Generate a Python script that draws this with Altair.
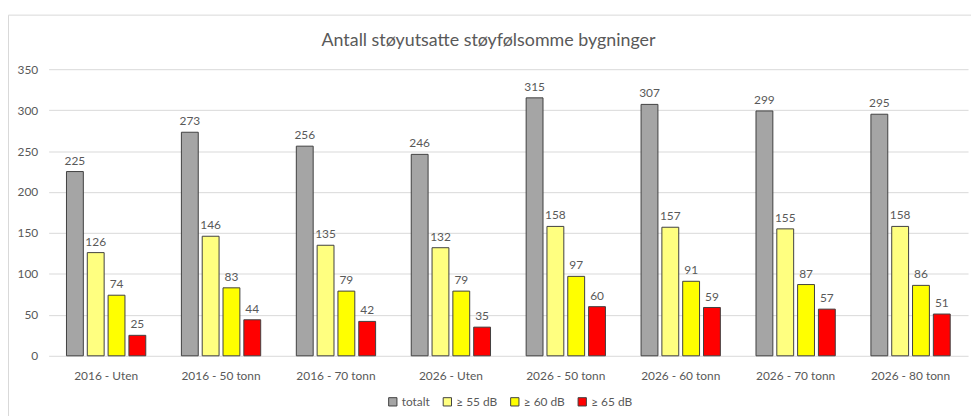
import altair as alt
import pandas as pd

categories = ["2016 - Uten", "2016 - 50 tonn", "2016 - 70 tonn", "2026 - Uten",
              "2026 - 50 tonn", "2026 - 60 tonn", "2026 - 70 tonn", "2026 - 80 tonn"]
series = ["totalt", "≥ 55 dB", "≥ 60 dB", "≥ 65 dB"]
totalt = [225, 273, 256, 246, 315, 307, 299, 295]
db55 = [126, 146, 135, 132, 158, 157, 155, 158]
db60 = [74, 83, 79, 79, 97, 91, 87, 86]
db65 = [25, 44, 42, 35, 60, 59, 57, 51]
colors = ["#A5A5A5", "#FFFF80", "#FFFF00", "#FF0000"]
y_ticks = [0, 50, 100, 150, 200, 250, 300, 350]

rows = []
for i, c in enumerate(categories):
    for s, vals in zip(series, [totalt, db55, db60, db65]):
        rows.append({"kategori": c, "serie": s, "verdi": vals[i]})
df = pd.DataFrame(rows)

W, H = 927, 289
FONT = "Lato"
TXT = "#595959"

x = alt.X("kategori:N", sort=categories,
          scale=alt.Scale(paddingInner=0.31, paddingOuter=0.155),
          axis=alt.Axis(title=None, labelAngle=0, domain=False, ticks=False,
                        labelPadding=15, labelFont=FONT, labelFontSize=12,
                        labelColor=TXT))
xo = alt.XOffset("serie:N", sort=series,
                 scale=alt.Scale(paddingInner=0.19, paddingOuter=0))
y = alt.Y("verdi:Q", scale=alt.Scale(domain=[0, 350], nice=False),
          axis=alt.Axis(values=y_ticks, title=None, domain=False, ticks=False,
                        labelPadding=11, labelFont=FONT, labelFontSize=12,
                        labelColor=TXT, gridColor="#d9d9d9", gridWidth=1))
color = alt.Color("serie:N", sort=series,
                  scale=alt.Scale(domain=series, range=colors),
                  legend=alt.Legend(title=None, orient="none", direction="horizontal",
                                    legendX=341, legendY=329, padding=0,
                                    symbolType="square", symbolSize=70,
                                    symbolStrokeColor="#404040", symbolStrokeWidth=1,
                                    labelFont=FONT, labelFontSize=12, labelColor=TXT,
                                    labelOffset=3, columnPadding=10))

bars = alt.Chart(df).mark_bar(stroke="#404040", strokeWidth=1).encode(
    x=x, xOffset=xo, y=y, color=color)

labels = alt.Chart(df).mark_text(dy=-11, font=FONT, fontSize=12, color=TXT).encode(
    x=x, xOffset=xo, y=y, text="verdi:Q")

frame = alt.Chart(pd.DataFrame({"f": [0]})).mark_rect(
    fill="transparent", stroke="#d9d9d9", strokeWidth=1).encode(
    x=alt.value(-40.5), x2=alt.value(1000), y=alt.value(-54.5), y2=alt.value(420))

chart = alt.layer(frame, bars, labels).properties(
    width=W, height=H,
    autosize=alt.AutoSizeParams(type="none"),
    padding={"left": 41, "top": 60, "right": 3, "bottom": 59},
    title=alt.TitleParams("Antall støyutsatte støyfølsomme bygninger",
                          font=FONT, fontSize=18, fontWeight="normal", color=TXT,
                          dx=-20, offset=-36),
).configure_view(stroke=None)

chart.save("out.html", embed_options={"renderer": "svg", "actions": False})
